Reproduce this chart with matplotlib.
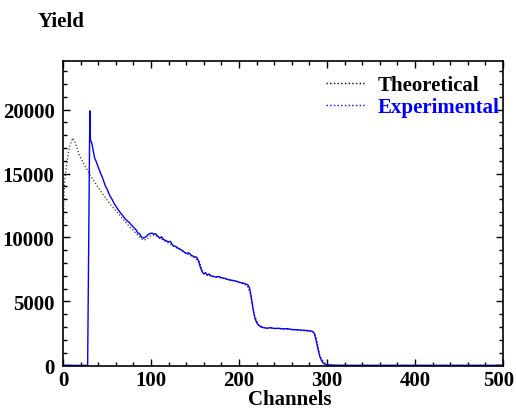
import matplotlib
matplotlib.use('Agg')
import matplotlib.pyplot as plt
import matplotlib.transforms as mtransforms
from matplotlib.ticker import MultipleLocator

plt.rcParams['font.family'] = ['Liberation Serif', 'DejaVu Serif']
plt.rcParams['font.weight'] = 'bold'

# Experimental spectrum (blue)
exp_ch = [0, 28, 30.5, 31.2, 32, 33, 34, 36, 38, 40, 42, 45, 48, 50, 53, 56, 59, 62, 65, 68,
          72, 75, 78, 80, 83, 85, 87, 89, 91, 93, 95, 97, 99, 101, 103, 105, 107, 110, 112,
          114, 117, 120, 122, 125, 128, 131, 134, 137, 140, 143, 146, 149, 152, 154, 156,
          158, 160, 162, 164, 166, 168, 171, 174, 177, 180, 184, 188, 192, 196, 200, 204,
          208, 210, 212, 214, 216, 218, 220, 222, 225, 228, 232, 236, 240, 245, 250, 255,
          260, 265, 270, 275, 280, 284, 286, 288, 290, 292, 294, 296, 298, 300, 303, 306,
          310, 320, 350, 400, 450, 500]
exp_yield = [0, 0, 19900, 17600, 17500, 17300, 16900, 16200, 15900, 15500, 15150, 14650,
             14050, 13800, 13300, 12950, 12550, 12250, 11950, 11700, 11350, 11200, 10950,
             10800, 10600, 10350, 10300, 10050, 9950, 10000, 10100, 10250, 10310, 10350,
             10250, 10300, 10150, 9950, 10050, 9850, 9750, 9650, 9700, 9350, 9300, 9150,
             9050, 8900, 8750, 8800, 8600, 8500, 8450, 8150, 7700, 7320, 7150, 7250, 7050,
             7150, 7000, 6950, 6900, 6950, 6850, 6800, 6700, 6650, 6600, 6500, 6450, 6350,
             6300, 6050, 5300, 4400, 3700, 3350, 3150, 3000, 2950, 2900, 2950, 2880, 2900,
             2850, 2870, 2800, 2790, 2760, 2740, 2700, 2650, 2450, 1840, 1200, 670, 350,
             150, 90, 50, 30, 20, 10, 0, 0, 0, 0, 0]

# Theoretical spectrum (dotted)
th_ch = [0, 0.5, 1, 2, 4, 7, 11, 14, 19, 25, 31, 42, 53, 65, 76, 87, 91, 95, 100, 104, 110,
         120, 130, 140, 150, 155, 158, 161, 175, 195, 209, 213, 217, 222, 228, 250, 284, 288,
         292, 298, 305, 320, 500]
th_yield = [6000, 10000, 13000, 14500, 15650, 17000, 17780, 17400, 16350, 15600, 14850, 13700,
            12650, 11700, 10800, 10050, 9800, 9850, 10150, 10200, 9950, 9550, 9150, 8750, 8400,
            8100, 7450, 7100, 6900, 6600, 6250, 5600, 4000, 3200, 2950, 2850, 2650, 2100, 700,
            150, 20, 0, 0]

fig = plt.figure(figsize=(5.16, 4.10), dpi=100)
ax = fig.add_axes([63/516, 43/410, 440/516, 305/410])

ax.plot(th_ch, th_yield, linestyle=':', color='#333333', linewidth=0.9, label='Theoretical')
ax.plot(exp_ch, exp_yield, linestyle='-', color='#0000ff', linewidth=1.0, label='Experimental')

ax.set_xlim(0, 500)
ax.set_ylim(-50, 23800)
ax.xaxis.set_major_locator(MultipleLocator(100))
ax.xaxis.set_minor_locator(MultipleLocator(20))
ax.yaxis.set_major_locator(MultipleLocator(5000))
ax.yaxis.set_minor_locator(MultipleLocator(1000))
ax.tick_params(which='both', direction='in', top=True, right=True, labelsize=15, width=1)
ax.tick_params(which='major', length=5)
ax.tick_params(which='minor', length=3)
ax.tick_params(axis='x', pad=3)
ax.tick_params(axis='y', pad=6)
for s in ax.spines.values():
    s.set_linewidth(1.2)

# pull the last x label ("500") in a little so it stays inside the figure
fig.canvas.draw()
for lbl in ax.get_xticklabels():
    if lbl.get_text() == '500':
        lbl.set_transform(lbl.get_transform() +
                          mtransforms.ScaledTranslation(-3/72, 0, fig.dpi_scale_trans))

fig.text(290/516, 1 - 405/410, 'Channels', fontsize=15, fontweight='bold',
         ha='center', va='baseline')
fig.text(38/516, 1 - 22/410, 'Yield', fontsize=15, fontweight='bold', va='center', ha='left')

# legend: dotted handles, coloured labels
leg_lines = [plt.Line2D([], [], linestyle=':', color='black', linewidth=1),
             plt.Line2D([], [], linestyle=':', color='#0000ff', linewidth=1)]
leg = ax.legend(leg_lines, ['Theoretical', 'Experimental'], loc='upper right',
                bbox_to_anchor=(499/516, 1 - 76/410), bbox_transform=fig.transFigure,
                frameon=False, fontsize=15, handlelength=1.9, handletextpad=0.55,
                labelspacing=0.1, borderaxespad=0, borderpad=0)
leg.get_texts()[1].set_color('#0000ff')

fig.savefig('out.png', dpi=100)
